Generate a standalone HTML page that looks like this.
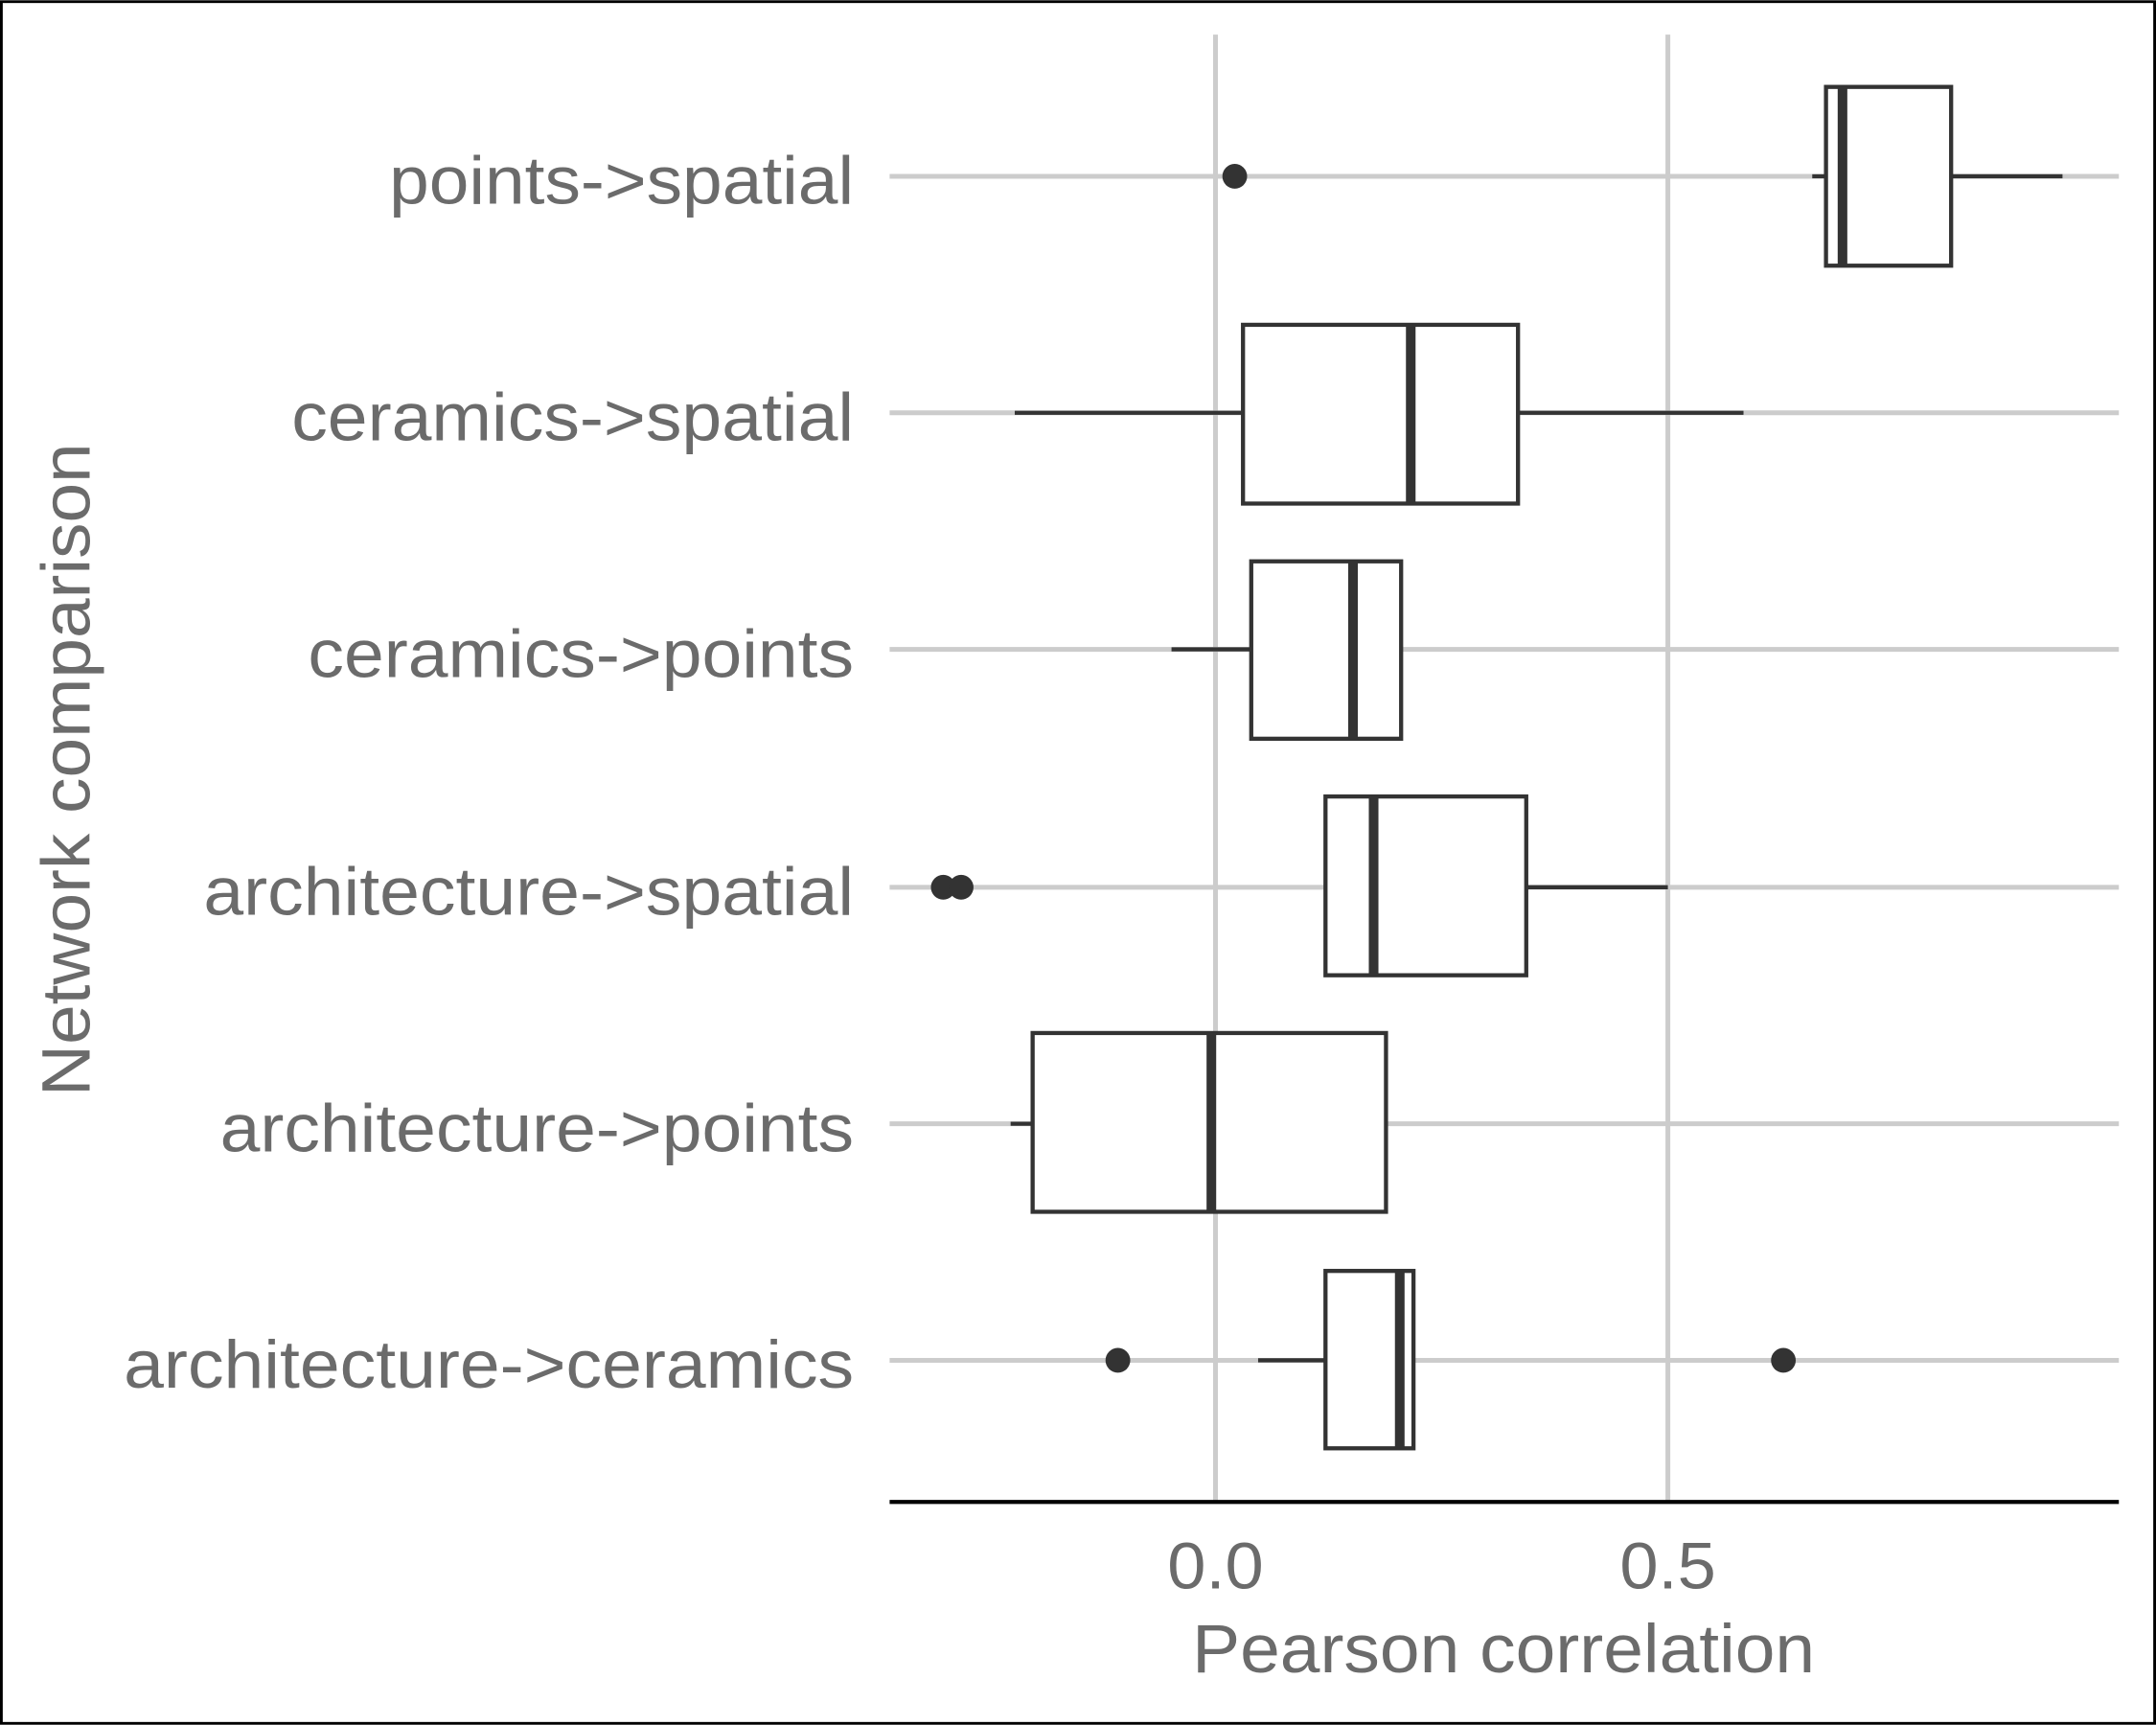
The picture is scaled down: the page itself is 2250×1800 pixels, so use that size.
<!DOCTYPE html>
<html><head><meta charset="utf-8"><style>
html,body{margin:0;padding:0;background:#fff;}
svg{display:block;}
text{font-family:"Liberation Sans",sans-serif;fill:#6b6b6b;}
</style></head><body>
<svg width="2250" height="1800" viewBox="0 0 1568 1254" xmlns="http://www.w3.org/2000/svg">
<rect x="0" y="0" width="1568" height="1254" fill="#fff"/>
<rect x="1" y="1" width="1566" height="1252" fill="none" stroke="#000" stroke-width="2"/>
<g stroke="#cccccc" stroke-width="3.5">
<line x1="884" y1="25" x2="884" y2="1092"/>
<line x1="1213" y1="25" x2="1213" y2="1092"/>
<line x1="647" y1="128" x2="1541" y2="128"/>
<line x1="647" y1="300" x2="1541" y2="300"/>
<line x1="647" y1="472" x2="1541" y2="472"/>
<line x1="647" y1="645" x2="1541" y2="645"/>
<line x1="647" y1="817" x2="1541" y2="817"/>
<line x1="647" y1="989" x2="1541" y2="989"/>
</g>
<line x1="647" y1="1092" x2="1541" y2="1092" stroke="#000" stroke-width="3"/>
<g stroke="#333" stroke-width="3" fill="#fff">
<line x1="1318" y1="128" x2="1328" y2="128"/><line x1="1419" y1="128" x2="1500" y2="128"/>
<rect x="1328" y="63" width="91" height="130"/>
<line x1="1340" y1="63" x2="1340" y2="193" stroke-width="7"/>
<line x1="738" y1="300" x2="904" y2="300"/><line x1="1104" y1="300" x2="1268" y2="300"/>
<rect x="904" y="236" width="200" height="130"/>
<line x1="1026" y1="236" x2="1026" y2="366" stroke-width="7"/>
<line x1="852" y1="472" x2="910" y2="472"/>
<rect x="910" y="408" width="109" height="129"/>
<line x1="984" y1="408" x2="984" y2="537" stroke-width="7"/>
<line x1="1110" y1="645" x2="1213" y2="645"/>
<rect x="964" y="579" width="146" height="130"/>
<line x1="999" y1="579" x2="999" y2="709" stroke-width="7"/>
<line x1="735" y1="817" x2="751" y2="817"/>
<rect x="751" y="751" width="257" height="130"/>
<line x1="881" y1="751" x2="881" y2="881" stroke-width="7"/>
<line x1="915" y1="989" x2="964" y2="989"/>
<rect x="964" y="924" width="64" height="129"/>
<line x1="1018" y1="924" x2="1018" y2="1053" stroke-width="7"/>
</g>
<g fill="#333">
<circle cx="898" cy="128" r="9"/>
<circle cx="686" cy="645" r="9"/><circle cx="699" cy="645" r="9"/>
<circle cx="813" cy="989" r="9"/><circle cx="1297" cy="989" r="9"/>
</g>
<g font-size="49" lengthAdjust="spacingAndGlyphs">
<text x="283" y="148" textLength="338" lengthAdjust="spacingAndGlyphs">points-&gt;spatial</text>
<text x="212" y="320" textLength="409" lengthAdjust="spacingAndGlyphs">ceramics-&gt;spatial</text>
<text x="224" y="492" textLength="397" lengthAdjust="spacingAndGlyphs">ceramics-&gt;points</text>
<text x="148" y="665" textLength="473" lengthAdjust="spacingAndGlyphs">architecture-&gt;spatial</text>
<text x="160" y="837" textLength="461" lengthAdjust="spacingAndGlyphs">architecture-&gt;points</text>
<text x="90" y="1009" textLength="531" lengthAdjust="spacingAndGlyphs">architecture-&gt;ceramics</text>
</g>
<text x="849" y="1155" font-size="48" textLength="70" lengthAdjust="spacingAndGlyphs">0.0</text>
<text x="1178" y="1155" font-size="48" textLength="70" lengthAdjust="spacingAndGlyphs">0.5</text>
<text x="867" y="1216" font-size="50" textLength="453" lengthAdjust="spacingAndGlyphs">Pearson correlation</text>
<text transform="translate(65,797) rotate(-90)" font-size="50" textLength="475" lengthAdjust="spacingAndGlyphs">Network comparison</text>
</svg>
</body></html>
